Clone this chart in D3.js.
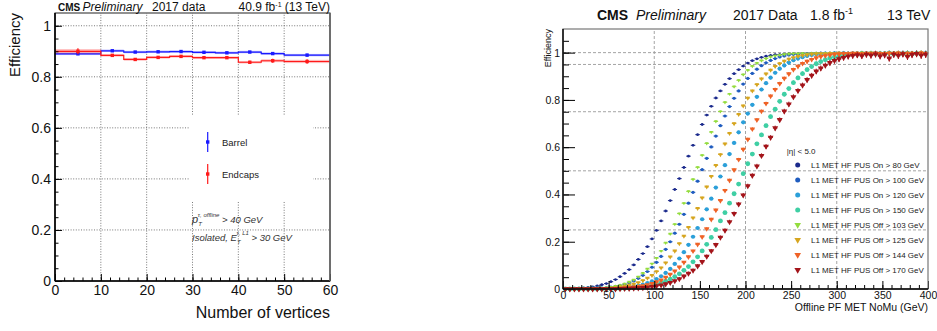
<!DOCTYPE html>
<html>
<head>
<meta charset="utf-8">
<script src="https://cdn.jsdelivr.net/npm/d3@7"></script>
<style>
  body { margin: 0; background: #fff; }
  svg { display: block; font-family: "Liberation Sans", Arial, sans-serif; }
</style>
</head>
<body>
<svg id="chart" width="937" height="331"></svg>
<script>
// ---- left panel: tau efficiency vs number of vertices ----
const vtxEdges = [0, 10, 15, 20, 25, 30, 35, 40, 45, 50, 60];
const barrelEff = [0.890, 0.902, 0.897, 0.898, 0.899, 0.896, 0.894, 0.897, 0.891, 0.885];
const barrelErr = [0.004, 0.002, 0.002, 0.002, 0.002, 0.002, 0.003, 0.003, 0.004, 0.005];
const endcapEff = [0.900, 0.884, 0.868, 0.876, 0.880, 0.875, 0.875, 0.857, 0.863, 0.860];
const endcapErr = [0.012, 0.003, 0.003, 0.003, 0.003, 0.003, 0.004, 0.006, 0.008, 0.009];
const leftYTicks = [0, 0.2, 0.4, 0.6, 0.8, 1];
const leftXTicks = [0, 10, 20, 30, 40, 50, 60];

// ---- right panel: L1 MET turn-on curves, 5 GeV bins from 0 to 400 ----
const metCenters = d3.range(80).map(i => 2.5 + 5 * i);
const seriesNames = [
  'L1 MET HF PUS On > 80 GeV', 'L1 MET HF PUS On > 100 GeV',
  'L1 MET HF PUS On > 120 GeV', 'L1 MET HF PUS On > 150 GeV',
  'L1 MET HF PUS Off > 103 GeV', 'L1 MET HF PUS Off > 125 GeV',
  'L1 MET HF PUS Off > 144 GeV', 'L1 MET HF PUS Off > 170 GeV'
];
const seriesColors = ['#1b2a8c', '#1f5cbf', '#2b9fd9', '#3fcfa4', '#93dc3e', '#d6a51f', '#ef6226', '#a3141a'];
const seriesShapes = ['circle', 'circle', 'circle', 'circle', 'tri', 'tri', 'tri', 'tri'];

const onGt80 = [0.001,0.002,0.002,0.004,0.005,0.007,0.009,0.013,0.018,0.023,
  0.031,0.040,0.052,0.066,0.082,0.102,0.125,0.150,0.179,0.212,
  0.248,0.288,0.330,0.374,0.421,0.467,0.514,0.562,0.608,0.653,
  0.696,0.736,0.773,0.808,0.838,0.866,0.890,0.911,0.928,0.943,
  0.956,0.966,0.974,0.980,0.985,0.988,0.991,0.992,0.994,0.995,
  0.996,0.995,0.997,0.996,0.997,0.998,0.996,0.997,0.998,0.997,
  0.996,0.998,0.997,0.998,0.999,0.997,0.996,0.998,0.997,0.999,
  0.998,0.996,0.998,0.997,0.999,0.998,0.997,0.998,0.999,0.997];
const onGt100 = [0.000,0.000,0.000,0.001,0.001,0.001,0.002,0.003,0.004,0.005,
  0.008,0.011,0.015,0.020,0.026,0.034,0.045,0.058,0.074,0.092,
  0.113,0.138,0.168,0.200,0.236,0.274,0.316,0.363,0.409,0.456,
  0.505,0.553,0.601,0.647,0.691,0.732,0.772,0.807,0.838,0.867,
  0.891,0.912,0.930,0.945,0.957,0.967,0.975,0.982,0.986,0.990,
  0.993,0.994,0.996,0.995,0.997,0.996,0.998,0.997,0.996,0.998,
  0.997,0.996,0.998,0.997,0.999,0.996,0.998,0.997,0.998,0.996,
  0.998,0.997,0.999,0.997,0.996,0.998,0.997,0.999,0.998,0.997];
const onGt120 = [0.000,0.000,0.000,0.000,0.000,0.000,0.000,0.001,0.001,0.001,
  0.002,0.003,0.004,0.005,0.007,0.010,0.014,0.019,0.025,0.032,
  0.042,0.054,0.068,0.085,0.106,0.129,0.156,0.187,0.221,0.258,
  0.295,0.337,0.382,0.429,0.476,0.524,0.571,0.618,0.663,0.705,
  0.742,0.779,0.813,0.844,0.871,0.894,0.915,0.932,0.946,0.958,
  0.968,0.975,0.981,0.986,0.990,0.993,0.994,0.996,0.995,0.997,
  0.996,0.998,0.995,0.997,0.996,0.998,0.997,0.995,0.998,0.996,
  0.997,0.999,0.996,0.997,0.998,0.996,0.997,0.998,0.996,0.998];
const onGt150 = [0.000,0.000,0.000,0.000,0.000,0.000,0.000,0.000,0.000,0.000,
  0.001,0.001,0.002,0.003,0.004,0.005,0.007,0.009,0.012,0.015,
  0.020,0.026,0.033,0.042,0.052,0.064,0.079,0.095,0.115,0.136,
  0.161,0.189,0.218,0.251,0.288,0.323,0.363,0.403,0.444,0.488,
  0.530,0.571,0.614,0.652,0.691,0.729,0.761,0.794,0.824,0.848,
  0.873,0.893,0.911,0.928,0.941,0.953,0.962,0.970,0.977,0.982,
  0.986,0.990,0.992,0.994,0.993,0.996,0.995,0.997,0.994,0.996,
  0.995,0.997,0.993,0.996,0.995,0.998,0.994,0.996,0.997,0.995];
const offGt103 = [0.000,0.000,0.000,0.001,0.001,0.001,0.002,0.003,0.004,0.006,
  0.008,0.012,0.016,0.022,0.030,0.039,0.052,0.067,0.085,0.107,
  0.131,0.161,0.195,0.233,0.274,0.319,0.363,0.413,0.464,0.515,
  0.566,0.616,0.664,0.709,0.751,0.790,0.825,0.856,0.883,0.907,
  0.926,0.943,0.956,0.966,0.975,0.982,0.987,0.990,0.993,0.995,
  0.996,0.996,0.997,0.995,0.997,0.998,0.996,0.997,0.998,0.996,
  0.997,0.998,0.996,0.998,0.997,0.999,0.997,0.996,0.998,0.997,
  0.998,0.997,0.999,0.996,0.998,0.997,0.998,0.999,0.997,0.998];
const offGt125 = [0.000,0.000,0.000,0.000,0.001,0.001,0.001,0.002,0.002,0.003,
  0.004,0.006,0.009,0.012,0.016,0.021,0.027,0.036,0.046,0.058,
  0.074,0.090,0.111,0.136,0.161,0.192,0.224,0.261,0.301,0.341,
  0.386,0.432,0.477,0.523,0.569,0.614,0.659,0.700,0.739,0.775,
  0.808,0.838,0.865,0.889,0.910,0.926,0.942,0.954,0.964,0.973,
  0.979,0.984,0.988,0.991,0.994,0.995,0.996,0.995,0.997,0.996,
  0.998,0.996,0.997,0.995,0.998,0.997,0.996,0.998,0.997,0.995,
  0.997,0.998,0.996,0.998,0.997,0.995,0.998,0.997,0.999,0.996];
const offGt144 = [0.000,0.000,0.000,0.000,0.000,0.000,0.000,0.000,0.001,0.001,
  0.001,0.002,0.003,0.004,0.006,0.008,0.010,0.014,0.018,0.023,
  0.030,0.038,0.049,0.062,0.076,0.093,0.113,0.136,0.161,0.189,
  0.221,0.255,0.295,0.334,0.374,0.417,0.460,0.504,0.548,0.591,
  0.633,0.677,0.716,0.752,0.785,0.816,0.844,0.869,0.891,0.910,
  0.928,0.942,0.954,0.963,0.971,0.978,0.983,0.987,0.990,0.993,
  0.994,0.996,0.995,0.997,0.996,0.994,0.997,0.995,0.998,0.996,
  0.995,0.997,0.996,0.998,0.994,0.997,0.996,0.995,0.998,0.996];
const offGt170 = [0.000,0.000,0.000,0.000,0.000,0.000,0.000,0.000,0.000,0.000,
  0.000,0.000,0.001,0.002,0.002,0.003,0.004,0.005,0.007,0.010,
  0.013,0.016,0.021,0.027,0.034,0.043,0.054,0.066,0.079,0.097,
  0.115,0.138,0.161,0.187,0.218,0.248,0.284,0.319,0.359,0.397,
  0.436,0.480,0.520,0.564,0.603,0.641,0.681,0.716,0.752,0.782,
  0.813,0.839,0.862,0.885,0.903,0.921,0.934,0.946,0.957,0.966,
  0.973,0.979,0.984,0.987,0.990,0.986,0.992,0.988,0.993,0.985,
  0.990,0.976,0.992,0.987,0.994,0.983,0.991,0.995,0.988,0.992];
const seriesValues = [onGt80, onGt100, onGt120, onGt150, offGt103, offGt125, offGt144, offGt170];
const seriesErrBase = [0.0015, 0.002, 0.003, 0.0035, 0.002, 0.0025, 0.003, 0.004];
const seriesMarkerR = [1.4, 1.6, 2.1, 2.4, 1.5, 1.9, 2.2, 2.4];
const rightYTicks = [0, 0.2, 0.4, 0.6, 0.8, 1];
const rightXTicks = [0, 50, 100, 150, 200, 250, 300, 350, 400];
const rightGridY = [0.25, 0.5, 0.75, 0.95, 1];
const rightGridX = [100, 200, 300];

const svg = d3.select('#chart');

// ================= left panel =================
const xL = d3.scaleLinear().domain([0, 60]).range([55, 330]);
const yL = d3.scaleLinear().domain([0, 1.05]).range([281, 13]);
const left = svg.append('g');

// dotted grid
left.selectAll('.gy').data(leftYTicks.filter(d => d > 0)).enter().append('line')
  .attr('x1', xL(0)).attr('x2', xL(60)).attr('y1', d => yL(d)).attr('y2', d => yL(d))
  .attr('stroke', '#555').attr('stroke-width', 0.8).attr('stroke-dasharray', '1,1.6');
left.selectAll('.gx').data(leftXTicks.filter(d => d > 0 && d < 60)).enter().append('line')
  .attr('x1', d => xL(d)).attr('x2', d => xL(d)).attr('y1', yL(0)).attr('y2', yL(1.05))
  .attr('stroke', '#555').attr('stroke-width', 0.8).attr('stroke-dasharray', '1,1.6');

// legend box hides the grid
left.append('rect').attr('x', 190).attr('y', 115).attr('width', 123).attr('height', 86).attr('fill', '#fff');

function drawHist(vals, errs, color) {
  const g = left.append('g');
  vals.forEach((v, i) => {
    const x0 = xL(vtxEdges[i]), x1 = xL(vtxEdges[i + 1]);
    const h = Math.max(2.4, yL(v - errs[i] * 0.7) - yL(v + errs[i] * 0.7));
    g.append('rect').attr('x', x0).attr('width', x1 - x0)
      .attr('y', yL(v) - h / 2).attr('height', h)
      .attr('fill', color).attr('fill-opacity', 0.3);
  });
  const pts = vals.map((v, i) => [vtxEdges[i], v]).concat([[60, vals[vals.length - 1]]]);
  g.append('path')
    .attr('d', d3.line().x(d => xL(d[0])).y(d => yL(d[1])).curve(d3.curveStepAfter)(pts))
    .attr('fill', 'none').attr('stroke', color).attr('stroke-width', 1.2);
  vals.forEach((v, i) => {
    const cx = xL((vtxEdges[i] + vtxEdges[i + 1]) / 2);
    g.append('line').attr('x1', cx).attr('x2', cx)
      .attr('y1', yL(v + errs[i])).attr('y2', yL(v - errs[i]))
      .attr('stroke', color).attr('stroke-width', 1.2);
    g.append('rect').attr('x', cx - 1.7).attr('y', yL(v) - 1.7)
      .attr('width', 3.4).attr('height', 3.4).attr('fill', color);
  });
}
drawHist(barrelEff, barrelErr, '#1a1aff');
drawHist(endcapEff, endcapErr, '#ff1a1a');

// axes, ticks pointing inside
const lAxisY = left.append('g').attr('transform', `translate(${xL(0)},0)`)
  .call(d3.axisLeft(yL).tickValues(leftYTicks).tickSize(-7).tickSizeOuter(0).tickPadding(4)
    .tickFormat(d => d === 0 ? '0' : d3.format('~g')(d)));
left.append('g').attr('transform', `translate(${xL(0)},0)`)
  .call(d3.axisLeft(yL).tickValues(d3.range(0, 1.05, 0.05)).tickSize(-3.5).tickFormat(''));
const lAxisX = left.append('g').attr('transform', `translate(0,${yL(0)})`)
  .call(d3.axisBottom(xL).tickValues(leftXTicks).tickSize(-7).tickSizeOuter(0).tickPadding(4));
left.append('g').attr('transform', `translate(0,${yL(0)})`)
  .call(d3.axisBottom(xL).tickValues(d3.range(0, 61, 2)).tickSize(-3.5).tickFormat(''));
left.selectAll('.domain').remove();
left.selectAll('.tick line').attr('stroke', '#000');
lAxisY.selectAll('text').attr('font-size', 14).attr('fill', '#111').attr('font-family', 'Liberation Sans');
lAxisX.selectAll('text').attr('font-size', 14).attr('fill', '#111').attr('font-family', 'Liberation Sans');
left.append('rect').attr('x', xL(0)).attr('y', yL(1.05)).attr('width', xL(60) - xL(0)).attr('height', yL(0) - yL(1.05))
  .attr('fill', 'none').attr('stroke', '#222').attr('stroke-width', 1);
left.append('line').attr('x1', xL(0)).attr('x2', xL(60)).attr('y1', yL(0)).attr('y2', yL(0)).attr('stroke', '#000').attr('stroke-width', 1.6);
left.append('line').attr('x1', xL(0)).attr('x2', xL(0)).attr('y1', yL(0)).attr('y2', yL(1.05)).attr('stroke', '#000').attr('stroke-width', 1.6);
left.append('line').attr('x1', xL(60)).attr('x2', xL(60)).attr('y1', yL(0)).attr('y2', yL(1.05)).attr('stroke', '#666').attr('stroke-width', 1.6);

left.append('text').attr('transform', 'translate(20,13) rotate(-90)').attr('text-anchor', 'end')
  .attr('font-size', 15).attr('fill', '#111').text('Efficiency');
left.append('text').attr('x', 330).attr('y', 318).attr('text-anchor', 'end')
  .attr('font-size', 16).attr('fill', '#111').text('Number of vertices');

// header
const lh = left.append('text').attr('y', 10.5).attr('font-size', 12).attr('fill', '#111');
lh.append('tspan').attr('x', 58).attr('font-weight', 'bold').attr('font-size', 10).text('CMS');
lh.append('tspan').attr('x', 82.5).attr('font-style', 'italic').text('Preliminary');
lh.append('tspan').attr('x', 152).text('2017 data');
const lh2 = left.append('text').attr('x', 330).attr('y', 10.5).attr('text-anchor', 'end').attr('font-size', 12).attr('fill', '#111');
lh2.append('tspan').text('40.9 fb');
lh2.append('tspan').attr('font-size', 7).attr('dy', -4).text('-1');
lh2.append('tspan').attr('dy', 4).text(' (13 TeV)');

// legend
[['Barrel', '#1a1aff', 142], ['Endcaps', '#ff1a1a', 174]].forEach(([name, col, cy]) => {
  left.append('line').attr('x1', 207.7).attr('x2', 207.7).attr('y1', cy - 10).attr('y2', cy + 10)
    .attr('stroke', col).attr('stroke-width', 1.2);
  left.append('rect').attr('x', 206).attr('y', cy - 1.7).attr('width', 3.4).attr('height', 3.4).attr('fill', col);
  left.append('text').attr('x', 222).attr('y', cy + 3.5).attr('font-size', 9.5).attr('fill', '#222').text(name);
});

// selection text
const t1 = left.append('text').attr('x', 192).attr('y', 223).attr('font-size', 9.5).attr('font-style', 'italic').attr('fill', '#333');
t1.append('tspan').attr('font-size', 11).text('p');
t1.append('tspan').attr('font-size', 6).attr('dy', 3).text('T');
t1.append('tspan').attr('font-size', 6).attr('dx', -4).attr('dy', -9).text('τ, offline');
t1.append('tspan').attr('dy', 6).text(' > 40 GeV');
const t2 = left.append('text').attr('x', 192).attr('y', 241).attr('font-size', 9.5).attr('font-style', 'italic').attr('fill', '#333');
t2.append('tspan').text('Isolated, E');
t2.append('tspan').attr('font-size', 6).attr('dy', 3).text('T');
t2.append('tspan').attr('font-size', 6).attr('dx', -4).attr('dy', -9).text('τ, L1');
t2.append('tspan').attr('dy', 6).text(' > 30 GeV');

// ================= right panel =================
const xR = d3.scaleLinear().domain([0, 400]).range([563, 928]);
const yR = d3.scaleLinear().domain([0, 1.1]).range([289, 29]);
const right = svg.append('g');

right.selectAll('.gy').data(rightGridY).enter().append('line')
  .attr('x1', xR(0)).attr('x2', xR(400)).attr('y1', d => yR(d)).attr('y2', d => yR(d))
  .attr('stroke', '#9a9a9a').attr('stroke-width', 0.9).attr('stroke-dasharray', '3,2');
right.selectAll('.gx').data(rightGridX).enter().append('line')
  .attr('x1', d => xR(d)).attr('x2', d => xR(d)).attr('y1', yR(0)).attr('y2', yR(1.1))
  .attr('stroke', '#9a9a9a').attr('stroke-width', 0.9).attr('stroke-dasharray', '3,2');

const triDown = r => d3.symbol().type(d3.symbolTriangle).size(r * r * 2.6)();
const halfBin = 2.5;
seriesValues.forEach((vals, s) => {
  const col = seriesColors[s];
  const g = right.append('g');
  vals.forEach((v, i) => {
    const x = metCenters[i];
    const e = seriesErrBase[s] * (1 + x / 150);
    g.append('line').attr('x1', xR(x - halfBin)).attr('x2', xR(x + halfBin))
      .attr('y1', yR(v)).attr('y2', yR(v)).attr('stroke', col).attr('stroke-width', 1);
    g.append('line').attr('x1', xR(x)).attr('x2', xR(x))
      .attr('y1', yR(v + e)).attr('y2', yR(v - e)).attr('stroke', col).attr('stroke-width', 1);
    if (seriesShapes[s] === 'circle') {
      g.append('circle').attr('cx', xR(x)).attr('cy', yR(v)).attr('r', seriesMarkerR[s]).attr('fill', col);
    } else {
      g.append('path').attr('d', triDown(seriesMarkerR[s]))
        .attr('transform', `translate(${xR(x)},${yR(v)}) rotate(180)`).attr('fill', col);
    }
  });
});

const rAxisY = right.append('g').attr('transform', `translate(${xR(0)},0)`)
  .call(d3.axisLeft(yR).tickValues(rightYTicks).tickSize(-12).tickSizeOuter(0).tickPadding(3)
    .tickFormat(d => d === 0 ? '0' : d3.format('~g')(d)));
right.append('g').attr('transform', `translate(${xR(0)},0)`)
  .call(d3.axisLeft(yR).tickValues(d3.range(0, 1.1, 0.05)).tickSize(-6).tickFormat(''));
const rAxisX = right.append('g').attr('transform', `translate(0,${yR(0)})`)
  .call(d3.axisBottom(xR).tickValues(rightXTicks).tickSize(-8).tickSizeOuter(0).tickPadding(3));
right.append('g').attr('transform', `translate(0,${yR(0)})`)
  .call(d3.axisBottom(xR).tickValues(d3.range(0, 401, 10)).tickSize(-4).tickFormat(''));
right.selectAll('.domain').remove();
right.selectAll('.tick line').attr('stroke', '#000');
rAxisY.selectAll('text').attr('font-size', 10.5).attr('fill', '#111').attr('font-family', 'Liberation Sans');
rAxisX.selectAll('text').attr('font-size', 10.5).attr('fill', '#111').attr('font-family', 'Liberation Sans');
right.append('rect').attr('x', xR(0)).attr('y', yR(1.1)).attr('width', xR(400) - xR(0)).attr('height', yR(0) - yR(1.1))
  .attr('fill', 'none').attr('stroke', '#777').attr('stroke-width', 1.2);
right.append('line').attr('x1', xR(0)).attr('x2', xR(400)).attr('y1', yR(0)).attr('y2', yR(0)).attr('stroke', '#000').attr('stroke-width', 1.4);
right.append('line').attr('x1', xR(0)).attr('x2', xR(0)).attr('y1', yR(0)).attr('y2', yR(1.1)).attr('stroke', '#000').attr('stroke-width', 1.4);

right.append('text').attr('transform', 'translate(551,29) rotate(-90)').attr('text-anchor', 'end')
  .attr('font-size', 9).attr('fill', '#111').text('Efficiency');
right.append('text').attr('x', 928).attr('y', 311).attr('text-anchor', 'end')
  .attr('font-size', 10.5).attr('fill', '#111').text('Offline PF MET NoMu (GeV)');

const rh = right.append('text').attr('y', 20).attr('font-size', 14).attr('fill', '#111');
rh.append('tspan').attr('x', 597).attr('font-weight', 'bold').text('CMS');
rh.append('tspan').attr('x', 636).attr('font-style', 'italic').text('Preliminary');
rh.append('tspan').attr('x', 733).text('2017 Data');
rh.append('tspan').attr('x', 810).text('1.8 fb');
rh.append('tspan').attr('font-size', 9).attr('dy', -6).text('-1');
rh.append('tspan').attr('x', 887).attr('dy', 6).text('13 TeV');

// legend
right.append('text').attr('x', 786.7).attr('y', 154).attr('font-size', 8).attr('fill', '#222').text('|η| < 5.0');
seriesNames.forEach((name, s) => {
  const cy = 165 + 15 * s;
  if (seriesShapes[s] === 'circle') {
    right.append('circle').attr('cx', 797.7).attr('cy', cy).attr('r', 2.5).attr('fill', seriesColors[s]);
  } else {
    right.append('path').attr('d', triDown(2.7))
      .attr('transform', `translate(797.7,${cy}) rotate(180)`).attr('fill', seriesColors[s]);
  }
  right.append('text').attr('x', 811).attr('y', cy + 3).attr('font-size', 8).attr('fill', '#222').text(name);
});
</script>
</body>
</html>
